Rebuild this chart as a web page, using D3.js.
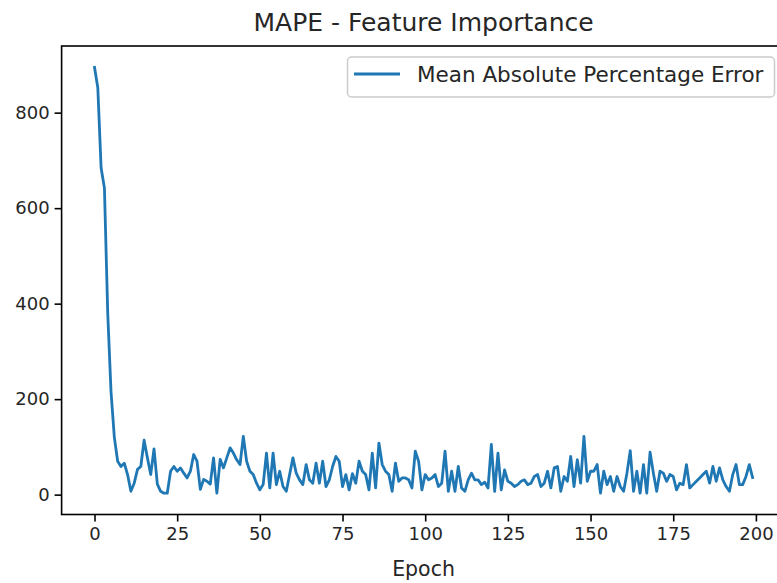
<!DOCTYPE html>
<html>
<head>
<meta charset="utf-8">
<script src="https://cdn.jsdelivr.net/npm/d3@7"></script>
<style>
  html, body { margin: 0; padding: 0; background: #fff; }
  svg { display: block; font-family: "DejaVu Sans", sans-serif; }
</style>
</head>
<body>
<div id="container"></div>
<script>
const title = "MAPE - Feature Importance";
const xLabel = "Epoch";
const seriesName = "Mean Absolute Percentage Error";

// MAPE per epoch (index = epoch)
const mape = [
  895, 852, 684, 642, 380, 215, 120, 70, 59, 66,
  42, 7, 24, 53, 59, 114, 77, 42, 96, 22,
  7, 3, 3, 49, 59, 49, 56, 45, 35, 49,
  84, 70, 11, 32, 28, 22, 77, 3, 74, 56,
  77, 98, 87, 73, 63, 122, 70, 49, 42, 24,
  10, 21, 87, 14, 87, 21, 49, 17, 7, 42,
  77, 45, 31, 21, 63, 31, 24, 66, 24, 70,
  17, 31, 59, 80, 70, 17, 42, 10, 44, 24,
  70, 49, 42, 10, 87, 14, 108, 63, 49, 42,
  7, 66, 28, 35, 35, 31, 14, 91, 70, 10,
  42, 31, 35, 42, 17, 24, 91, 7, 49, 7,
  59, 14, 7, 31, 45, 31, 31, 21, 26, 14,
  105, 7, 87, 10, 52, 28, 24, 17, 21, 28,
  31, 21, 24, 38, 42, 17, 24, 49, 14, 56,
  59, 7, 38, 28, 80, 17, 73, 24, 122, 28,
  49, 49, 63, 3, 49, 21, 38, 7, 38, 17,
  7, 45, 92, 7, 49, 3, 63, 3, 89, 45,
  7, 49, 45, 28, 42, 38, 10, 24, 21, 63,
  14, 21, 28, 35, 42, 49, 24, 59, 28, 56,
  31, 17, 7, 42, 63, 21, 21, 38, 63, 36
];

const xTicks = [0, 25, 50, 75, 100, 125, 150, 175, 200];
const yTicks = [0, 200, 400, 600, 800];

const totalWidth = 777;
const totalHeight = 583;
const plot = { left: 61.6, right: 785.5, top: 46, bottom: 514.5 };

const svg = d3.select("#container")
  .append("svg")
  .attr("width", totalWidth)
  .attr("height", totalHeight);

svg.append("rect")
  .attr("width", totalWidth)
  .attr("height", totalHeight)
  .attr("fill", "#fff");

// matplotlib style 5% margins
const n = mape.length;
const xPad = (n - 1) * 0.05;
const [yMin, yMax] = d3.extent(mape);
const yPad = (yMax - yMin) * 0.05;

const xScale = d3.scaleLinear()
  .domain([0 - xPad, n - 1 + xPad])
  .range([plot.left, plot.right]);

const yScale = d3.scaleLinear()
  .domain([yMin - yPad, yMax + yPad])
  .range([plot.bottom, plot.top]);

// Line
const line = d3.line()
  .x((d, i) => xScale(i))
  .y(d => yScale(d));

svg.append("path")
  .datum(mape)
  .attr("fill", "none")
  .attr("stroke", "#1f77b4")
  .attr("stroke-width", 2.8)
  .attr("stroke-linejoin", "round")
  .attr("stroke-linecap", "square")
  .attr("d", line);

// Axes
const xAxis = svg.append("g")
  .attr("transform", `translate(0,${plot.bottom})`)
  .call(d3.axisBottom(xScale).tickValues(xTicks).tickSize(7).tickPadding(6).tickFormat(d3.format("d")));

const yAxis = svg.append("g")
  .attr("transform", `translate(${plot.left},0)`)
  .call(d3.axisLeft(yScale).tickValues(yTicks).tickSize(7).tickPadding(5).tickFormat(d3.format("d")));

[xAxis, yAxis].forEach(ax => {
  ax.select(".domain").remove();
  ax.selectAll(".tick line").attr("stroke", "#000").attr("stroke-width", 1.6);
  ax.selectAll(".tick text")
    .attr("fill", "#262626")
    .style("font-size", "18px")
    .style("font-family", "DejaVu Sans, sans-serif");
});

// Spines
svg.append("rect")
  .attr("x", plot.left)
  .attr("y", plot.top)
  .attr("width", plot.right - plot.left)
  .attr("height", plot.bottom - plot.top)
  .attr("fill", "none")
  .attr("stroke", "#000")
  .attr("stroke-width", 1.6);

// Title
svg.append("text")
  .attr("x", (plot.left + plot.right) / 2)
  .attr("y", 31)
  .attr("text-anchor", "middle")
  .attr("fill", "#262626")
  .style("font-size", "25px")
  .text(title);

// X label
svg.append("text")
  .attr("x", (plot.left + plot.right) / 2)
  .attr("y", 576)
  .attr("text-anchor", "middle")
  .attr("fill", "#262626")
  .style("font-size", "20.5px")
  .text(xLabel);

// Legend
const legend = svg.append("g");
legend.append("rect")
  .attr("x", 347.5)
  .attr("y", 57)
  .attr("width", 427)
  .attr("height", 40)
  .attr("rx", 4)
  .attr("fill", "#fff")
  .attr("fill-opacity", 0.8)
  .attr("stroke", "#cccccc")
  .attr("stroke-width", 1.5);

legend.append("line")
  .attr("x1", 354)
  .attr("x2", 400)
  .attr("y1", 74)
  .attr("y2", 74)
  .attr("stroke", "#1f77b4")
  .attr("stroke-width", 2.8);

legend.append("text")
  .attr("x", 417)
  .attr("y", 82)
  .attr("fill", "#262626")
  .style("font-size", "21.5px")
  .text(seriesName);
</script>
</body>
</html>
